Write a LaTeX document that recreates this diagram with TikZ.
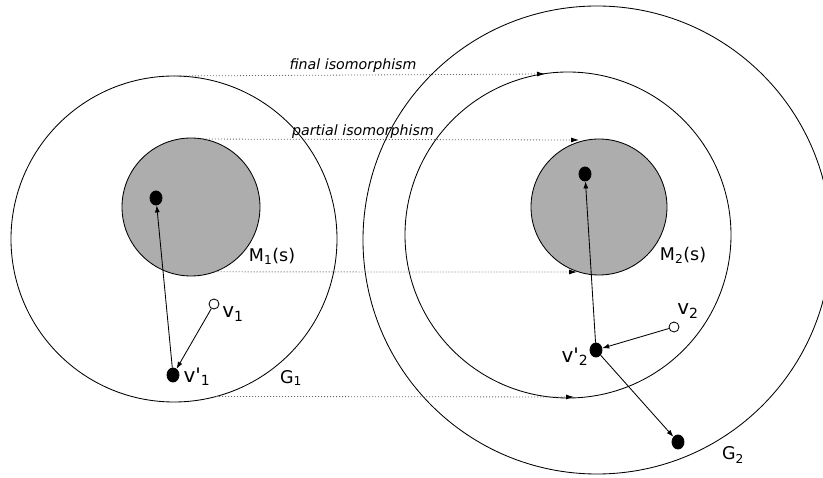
\documentclass[tikz,border=0pt]{standalone}
\usepackage{fontspec}
\setmainfont{DejaVu Sans}
\usetikzlibrary{arrows.meta,shapes.geometric}

\begin{document}
\begin{tikzpicture}[x=1pt, y=-1pt, >={Latex[length=7pt,width=5pt]}, line width=0.85pt,
    ring/.style={draw, circle, inner sep=0pt, outer sep=0pt},
    core/.style={ring, fill=black!32},
    vtx/.style={draw, fill=black, ellipse, inner sep=0pt, minimum width=12pt, minimum height=14pt},
    hollow/.style={draw, fill=white, circle, inner sep=0pt, minimum size=10pt},
    iso/.style={black!60, dash pattern=on 1pt off 2pt, line width=0.8pt, -{Latex[black,length=8pt,width=5pt]}},
    lbl/.style={font=\fontsize{17.5}{19}\selectfont, inner sep=0pt},
    vlbl/.style={font=\fontsize{20}{22}\selectfont, inner sep=0pt},
    isolbl/.style={font=\fontsize{14.2}{16}\selectfont\itshape, inner sep=0pt}]
  \useasboundingbox (0,0) rectangle (823,478);

  % --- graphs and their matched parts ---
  \node[ring, minimum size=468pt] (G2) at (597,240) {};
  \node[ring, minimum size=326pt] (H2) at (568,235) {};
  \node[ring, minimum size=326pt] (G1) at (174,239) {};
  \node[core, minimum size=138pt] (M1) at (191,207) {};
  \node[core, minimum size=136pt] (M2) at (599,207) {};

  % --- end points of the mappings ---
  \coordinate (fin) at (545,74);
  \coordinate (par) at (579,140);
  \coordinate (mbot) at (577,272);
  \coordinate (gbot) at (574,397);

  % --- mappings ---
  \draw[iso] (G1.north) -- (fin);
  \draw[iso] (M1.80) -- (par);
  \draw[iso] (M1.-70) -- (mbot);
  \draw[iso] (G1.-75) -- (gbot);
  \node[isolbl] (finlab) at (353,66) {final isomorphism};
  \node[isolbl] (parlab) at (363,132) {partial isomorphism};

  % --- vertices ---
  \node[vtx] (a1) at (156,198) {};
  \node[vtx] (v1p) at (173,375) {};
  \node[hollow] (v1) at (214,304) {};
  \node[vtx] (a2) at (585,174) {};
  \node[vtx] (v2p) at (596,350) {};
  \node[hollow] (v2) at (674,327) {};
  \node[vtx] (w2) at (678,442) {};

  \draw[->] (v1p) -- (a1);
  \draw[->] (v1) -- (v1p);
  \draw[->] (v2p) -- (a2);
  \draw[->] (v2) -- (v2p);
  \draw[->] (v2p) -- (w2);

  % --- labels ---
  \node[lbl] (m1lab) at (272,256) {M\textsubscript{1}(s)};
  \node[lbl] (m2lab) at (683,255) {M\textsubscript{2}(s)};
  \node[lbl] (g1lab) at (291,378) {G\textsubscript{1}};
  \node[lbl] (g2lab) at (733,455) {G\textsubscript{2}};
  \node[vlbl] (v1lab) at (233,314) {v\textsubscript{1}};
  \node[vlbl] (v2lab) at (688,311) {v\textsubscript{2}};
  \node[vlbl] (v1plab) at (197,377) {v\textquotesingle\textsubscript{1}};
  \node[vlbl] (v2plab) at (575,357) {v\textquotesingle\textsubscript{2}};

\end{tikzpicture}
\end{document}
